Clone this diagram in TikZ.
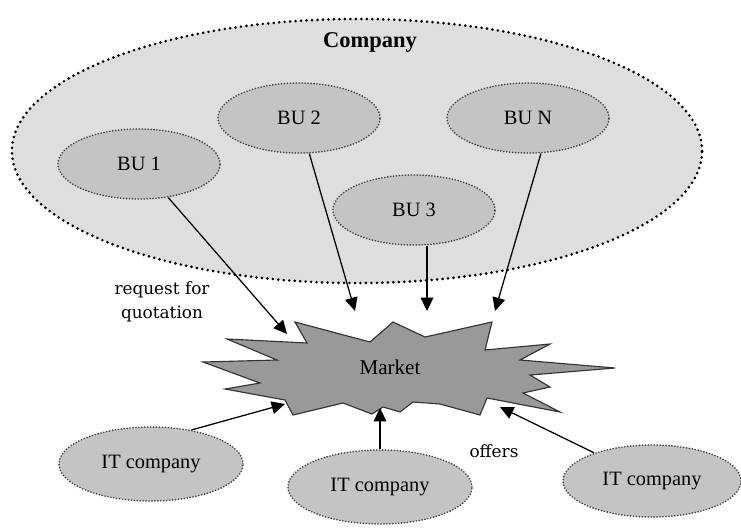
\documentclass[tikz,border=0pt]{standalone}
\usepackage{fontspec}
\setmainfont{Liberation Serif}
\newfontfamily\notefont{DejaVu Serif}
\usetikzlibrary{shapes.geometric,arrows.meta,positioning}

\begin{document}
\begin{tikzpicture}[x=0.025cm, y=-0.025cm, >={Triangle[length=9.5pt,width=9pt]},
    whole/.style={ellipse, draw=black, fill=black!13, line width=2.1pt,
        dash pattern=on 0pt off 3.9pt, line cap=round,
        minimum width=17.25cm, minimum height=6.6cm},
    unit/.style={ellipse, draw=black!75, fill=black!23, line width=1.3pt,
        dash pattern=on 0pt off 2.1pt, line cap=round,
        minimum width=4.05cm, minimum height=1.75cm,
        font=\fontsize{14.5}{16}\selectfont},
    vendor/.style={unit, minimum width=4.6cm, minimum height=1.85cm},
    note/.style={font=\notefont\fontsize{12}{17.5}\selectfont, align=center},
    link/.style={->, line width=0.9pt}]
    \useasboundingbox (0,0) rectangle (741,527);

    % company with its business units
    \node[whole] (company) at (357,151) {};
    \node[font=\bfseries\fontsize{16}{18}\selectfont] (companyname) at (370,42) {Company};
    \node[unit] (bu1) at (139,164) {BU 1};
    \node[unit] (bu2) at (299,118) {BU 2};
    \node[unit] (bun) at (528,118) {BU N};
    \node[unit] (bu3) at (414,210) {BU 3};

    % market
    \draw[fill=black!40, draw=black!80, line width=0.8pt]
        (295,322) -- (307,343) -- (227,339) -- (277,360) -- (203,362) -- (260,383)
        -- (225,389) -- (285,400) -- (293,415) -- (343,403) -- (372,414) -- (383,407)
        -- (400,412) -- (413,402) -- (440,404) -- (480,415) -- (487,398) -- (560,412)
        -- (523,393) -- (550,387) -- (530,375) -- (615,368) -- (520,360) -- (550,344)
        -- (485,350) -- (492,322) -- (425,337) -- (393,322) -- (370,342) -- cycle;
    \node[font=\fontsize{15}{16}\selectfont] (market) at (390,367) {Market};
    \coordinate (m1) at (287,334);
    \coordinate (m2) at (355,311);
    \coordinate (m3) at (427,311);
    \coordinate (m4) at (495,311);
    \coordinate (m5) at (285,404);
    \coordinate (m6) at (380,408);
    \coordinate (m7) at (500,407);

    % IT companies
    \node[vendor] (itl) at (151,464) {IT company};
    \node[vendor] (itm) at (380,487) {IT company};
    \node[vendor, minimum width=4.45cm, minimum height=1.8cm] (itr) at (652,481) {IT company};

    \node[note] (rfq) at (162,302) {request for\\quotation};
    \node[note] (offers) at (494,451) {offers};

    \path [link]
        (bu1) edge (m1)
        (bu2) edge (m2)
        (m3 |- bu3.south) edge (m3)
        (bun.-70) edge (m4)
        (itl.40) edge (m5)
        (itm) edge (m6)
        (itr) edge (m7)
    ;
\end{tikzpicture}
\end{document}
